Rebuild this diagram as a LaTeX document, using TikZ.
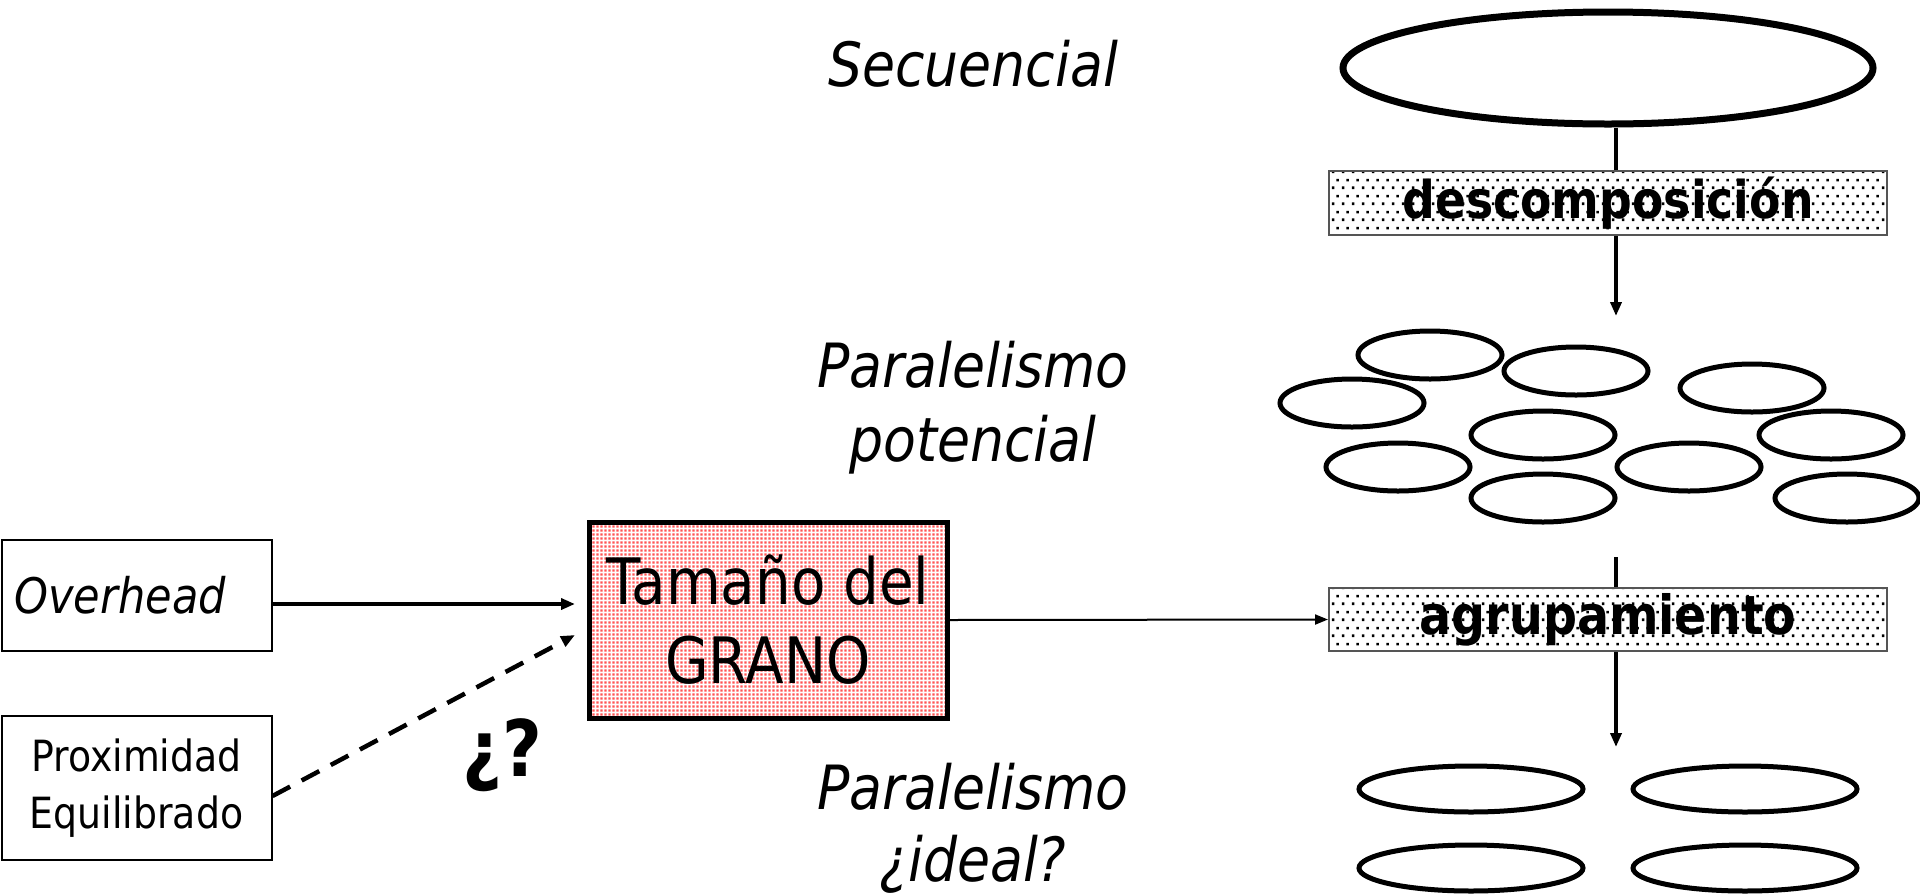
\documentclass[tikz,border=0pt]{standalone}
\usepackage{fontspec}
\setmainfont{DejaVu Sans}[FakeStretch=0.88]
\usetikzlibrary{shapes.geometric,arrows.meta,patterns.meta}

% staggered black dots for the process boxes
\tikzdeclarepattern{
  name=stagdots,
  type=uncolored,
  bounding box={(0pt,0pt) and (10pt,16pt)},
  tile size={(10pt,16pt)},
  code={
    \fill (2pt,2pt) rectangle (4.8pt,4.8pt);
    \fill (7pt,10pt) rectangle (9.8pt,12.8pt);
  }
}
% fine dots for the central box
\tikzdeclarepattern{
  name=finedots,
  type=uncolored,
  bounding box={(0pt,0pt) and (4pt,4pt)},
  tile size={(4pt,4pt)},
  code={\fill (0.4pt,0.4pt) rectangle (3.2pt,3.2pt);}
}

\definecolor{dotred}{RGB}{255,85,85}
\definecolor{rimgray}{RGB}{85,85,85}

\begin{document}
\begin{tikzpicture}[x=1pt,y=-1pt,
  phase/.style={font=\fontsize{61}{74}\selectfont\itshape, align=center, inner sep=0pt},
  srcbox/.style={draw, line width=2pt, inner sep=0pt, minimum width=270pt},
  procbox/.style={draw=rimgray, line width=2pt, preaction={fill=white},
    pattern=stagdots, pattern color=black, minimum width=558pt, inner sep=0pt},
  grain/.style={draw, line width=5pt, pattern=finedots, pattern color=dotred,
    minimum width=358pt, minimum height=196pt, inner sep=0pt, align=center,
    font=\fontsize{64}{79}\selectfont},
  blob/.style={draw, ellipse, line width=5pt, inner sep=0pt},
  link/.style={line width=3.5pt, -{Triangle[length=14pt,width=11pt]}},
  stem/.style={line width=3.5pt}
]
\useasboundingbox (0,0) rectangle (1920,895);

% phase labels
\node[phase] (lseq) at (973,64) {Secuencial};
\node[phase] (lpot) at (973,408) {Paralelismo\\potencial};
\node[phase, font=\fontsize{61}{72}\selectfont\itshape] (lide) at (973,828) {Paralelismo\\¿ideal?};

% sequential program
\node[blob, line width=7pt, minimum width=530pt, minimum height=112pt] (seq) at (1608,68) {};

% potential parallelism: fine-grained tasks
\node[blob, minimum width=144pt, minimum height=48pt] (t1) at (1430,355) {};
\node[blob, minimum width=144pt, minimum height=48pt] (t2) at (1576,371) {};
\node[blob, minimum width=144pt, minimum height=48pt] (t3) at (1752,388) {};
\node[blob, minimum width=144pt, minimum height=48pt] (t4) at (1352,403) {};
\node[blob, minimum width=144pt, minimum height=48pt] (t5) at (1543,435) {};
\node[blob, minimum width=144pt, minimum height=48pt] (t6) at (1831,435) {};
\node[blob, minimum width=144pt, minimum height=48pt] (t7) at (1398,467) {};
\node[blob, minimum width=144pt, minimum height=48pt] (t8) at (1689,467) {};
\node[blob, minimum width=144pt, minimum height=48pt] (t9) at (1543,498) {};
\node[blob, minimum width=144pt, minimum height=48pt] (t10) at (1847,498) {};

% grouped tasks
\node[blob, minimum width=224pt, minimum height=46pt] (g1) at (1471,789) {};
\node[blob, minimum width=224pt, minimum height=46pt] (g2) at (1745,789) {};
\node[blob, minimum width=224pt, minimum height=46pt] (g3) at (1471,868) {};
\node[blob, minimum width=224pt, minimum height=46pt] (g4) at (1745,868) {};

% transformation steps
\node[procbox, minimum height=64pt, font=\fontsize{52}{58}\selectfont\bfseries] (desc) at (1608,203) {descomposición};
\node[procbox, minimum height=63pt, font=\fontsize{54}{60}\selectfont\bfseries] (agr) at (1608,619.5) {agrupamiento};

% vertical flow
\coordinate (tipA) at (1616,316);
\coordinate (topB) at (1616,557);
\coordinate (tipB) at (1616,747);
\draw[stem] (seq.south -| tipA) -- (desc.north -| tipA);
\draw[link] (desc.south -| tipA) -- (tipA);
\draw[stem] (topB) -- (agr.north -| topB);
\draw[link] (agr.south -| tipB) -- (tipB);

% grain size and its factors
\node[grain] (grano) at (768,620) {Tamaño del\\GRANO};
\node[srcbox, minimum height=111pt, text width=244pt, inner xsep=13pt, align=left,
  font=\fontsize{49}{56}\selectfont\itshape] (ovh) at (136.5,595.5) {Overhead};
\node[srcbox, minimum height=144pt, align=center,
  font=\fontsize{43}{57}\selectfont] (prox) at (136.5,788) {Proximidad\\Equilibrado};
\node[font=\fontsize{78}{84}\selectfont\bfseries, inner sep=0pt] (qm) at (502,755) {¿?};

\coordinate (inA) at (575,604);
\coordinate (inB) at (575,635);
\draw[link, line width=4pt] (ovh.east |- inA) -- (inA);
\draw[link, line width=4.5pt, dash pattern=on 20pt off 13pt] ([yshift=-8pt]prox.east) -- (inB);
\draw[line width=2pt, -{Triangle[length=13pt,width=10pt]}] (grano.east) -- (agr.west);
\end{tikzpicture}
\end{document}
